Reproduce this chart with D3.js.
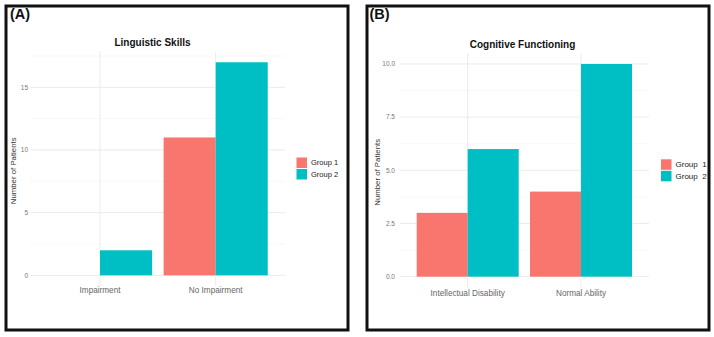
<!DOCTYPE html>
<html>
<head>
<meta charset="utf-8">
<script src="https://cdn.jsdelivr.net/npm/d3@7/dist/d3.min.js"></script>
<style>
  html, body { margin: 0; padding: 0; background: #fff; }
  svg { display: block; font-family: "Liberation Sans", Arial, Helvetica, sans-serif; }
</style>
</head>
<body>
<svg id="chart" width="714" height="337"></svg>
<script>
// ---- Data ----
const groups = ["Group 1", "Group 2"];
const groupLabelsA = ["Group 1", "Group 2"];
const groupLabelsB = ["Group  1", "Group  2"];
const colors = ["#F8766D", "#00BFC4"];

const categoriesA = ["Impairment", "No Impairment"];
const group1A = [0, 11];
const group2A = [2, 17];
const ticksA = [0, 5, 10, 15];
const tickLabelsA = ["0", "5", "10", "15"];
const minorTicksA = [2.5, 7.5, 12.5, 17.5];

const categoriesB = ["Intellectual Disability", "Normal Ability"];
const group1B = [3, 4];
const group2B = [6, 10];
const ticksB = [0, 2.5, 5, 7.5, 10];
const tickLabelsB = ["0.0", "2.5", "5.0", "7.5", "10.0"];
const minorTicksB = [1.25, 3.75, 6.25, 8.75];

const svg = d3.select("#chart");

function drawPanel(cfg) {
  const g = svg.append("g");
  // frame
  g.append("rect").attr("x", cfg.frame[0]).attr("y", cfg.frame[1])
    .attr("width", cfg.frame[2]).attr("height", cfg.frame[3])
    .attr("fill", "#fff").attr("stroke", "#111").attr("stroke-width", 3);
  g.append("text").attr("x", cfg.labelPos[0]).attr("y", cfg.labelPos[1])
    .attr("font-size", 14.5).attr("font-weight", "bold").attr("fill", "#111")
    .text(cfg.panelLabel);

  const maxV = d3.max(cfg.series.flat());
  const pad = maxV * 0.05;
  const y = d3.scaleLinear().domain([-pad, maxV + pad]).range(cfg.yRange);
  const x = d3.scaleBand().domain(cfg.categories).range(cfg.xRange)
    .paddingInner(0.1).paddingOuter(0.15);
  const xg = d3.scaleBand().domain(groups).range([0, x.bandwidth()]).padding(0);

  // minor grid
  g.selectAll(".minor").data(cfg.minor).join("line")
    .attr("x1", cfg.xRange[0]).attr("x2", cfg.xRange[1])
    .attr("y1", d => y(d)).attr("y2", d => y(d))
    .attr("stroke", "#f3f3f3").attr("stroke-width", 0.6);
  // major grid
  g.selectAll(".major").data(cfg.ticks).join("line")
    .attr("x1", cfg.xRange[0]).attr("x2", cfg.xRange[1])
    .attr("y1", d => y(d)).attr("y2", d => y(d))
    .attr("stroke", "#ebebeb").attr("stroke-width", 1);
  g.selectAll(".vgrid").data(cfg.categories).join("line")
    .attr("x1", d => x(d) + x.bandwidth() / 2).attr("x2", d => x(d) + x.bandwidth() / 2)
    .attr("y1", cfg.yRange[0]).attr("y2", cfg.yRange[1])
    .attr("stroke", "#ebebeb").attr("stroke-width", 1);

  // bars
  const rows = [];
  cfg.categories.forEach((c, i) => groups.forEach((gr, j) => rows.push({ c, gr, j, v: cfg.series[j][i] })));
  g.selectAll(".bar").data(rows.filter(r => r.v > 0)).join("rect")
    .attr("x", d => x(d.c) + xg(d.gr))
    .attr("width", xg.bandwidth())
    .attr("y", d => y(d.v))
    .attr("height", d => y(0) - y(d.v))
    .attr("fill", d => colors[d.j]);

  // y tick labels
  g.selectAll(".ytl").data(cfg.ticks).join("text")
    .attr("x", cfg.tickX).attr("y", d => y(d)).attr("dy", "0.35em")
    .attr("text-anchor", "end").attr("font-size", 6.5).attr("fill", "#777")
    .text((d, i) => cfg.tickLabels[i]);
  // x tick labels
  g.selectAll(".xtl").data(cfg.categories).join("text")
    .attr("x", d => x(d) + x.bandwidth() / 2).attr("y", cfg.xLabelY)
    .attr("text-anchor", "middle").attr("font-size", 8.2).attr("fill", "#666")
    .text(d => d);
  // y axis title
  const ymid = (cfg.yRange[0] + cfg.yRange[1]) / 2;
  g.append("text").attr("transform", `translate(${cfg.yTitleX},${ymid + 2}) rotate(-90)`)
    .attr("text-anchor", "middle").attr("dy", "0.35em")
    .attr("font-size", 7.8).attr("fill", "#333").text("Number of Patients");
  // title
  g.append("text").attr("x", cfg.titleX).attr("y", cfg.titleY)
    .attr("text-anchor", "middle").attr("font-size", 10).attr("font-weight", "bold")
    .attr("fill", "#111").text(cfg.title);
  // legend
  cfg.legendLabels.forEach((lab, j) => {
    g.append("rect").attr("x", cfg.legend[0]).attr("y", cfg.legend[1] + j * 11.5)
      .attr("width", 10.5).attr("height", 10.5).attr("fill", colors[j]);
    g.append("text").attr("x", cfg.legend[0] + 14.5).attr("y", cfg.legend[1] + j * 11.5 + 5.25)
      .attr("dy", "0.35em").attr("font-size", cfg.legendFont).attr("fill", "#222")
      .style("white-space", "pre").text(lab);
  });
}

drawPanel({
  frame: [6, 6, 342, 324], panelLabel: "(A)", labelPos: [10, 19],
  categories: categoriesA, series: [group1A, group2A],
  ticks: ticksA, tickLabels: tickLabelsA, minor: minorTicksA,
  yRange: [286, 51.6], xRange: [30.6, 285.1],
  tickX: 28, xLabelY: 293, yTitleX: 13.5,
  title: "Linguistic Skills", titleX: 152.5, titleY: 46,
  legend: [296.5, 157.5], legendLabels: groupLabelsA, legendFont: 7.5
});

drawPanel({
  frame: [367, 6, 342, 324], panelLabel: "(B)", labelPos: [369.5, 19],
  categories: categoriesB, series: [group1B, group2B],
  ticks: ticksB, tickLabels: tickLabelsB, minor: minorTicksB,
  yRange: [287.3, 53.35], xRange: [399.7, 649],
  tickX: 395, xLabelY: 295.5, yTitleX: 377.7,
  title: "Cognitive Functioning", titleX: 522.5, titleY: 48,
  legend: [661, 159.3], legendLabels: groupLabelsB, legendFont: 8
});
</script>
</body>
</html>
